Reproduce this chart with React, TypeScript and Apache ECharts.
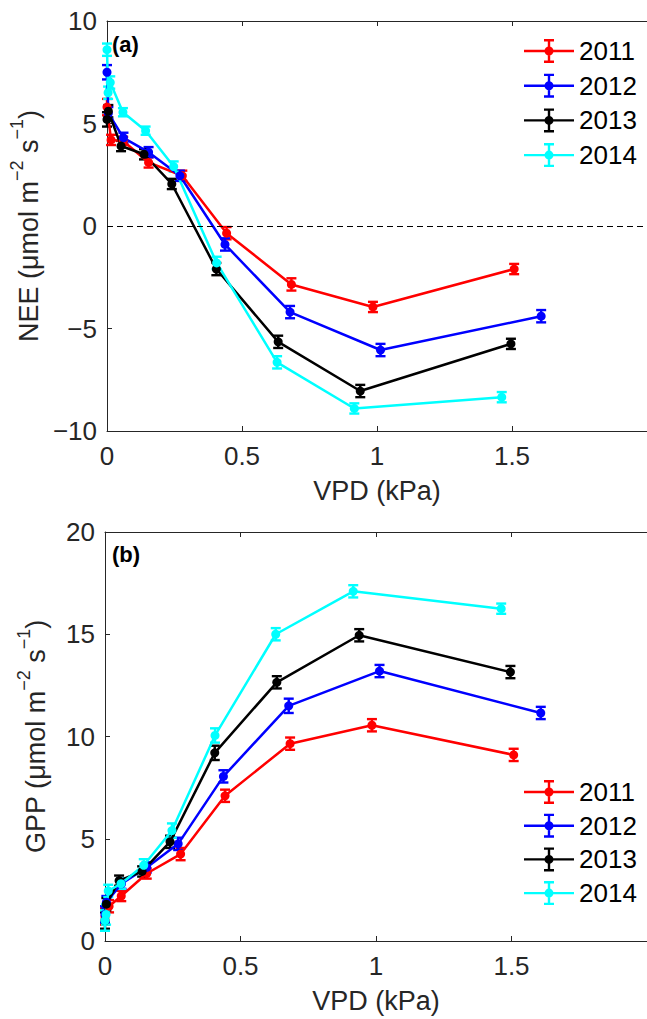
import React, { useEffect, useRef } from "react";
import * as echarts from "echarts";

// ---------- data ----------
const years = ["2011", "2012", "2013", "2014"];
const colors = ["#ff0000", "#0000ff", "#000000", "#00ffff"];

const vpd2011 = [0.0, 0.015, 0.06, 0.154, 0.279, 0.443, 0.683, 0.985, 1.508];
const vpd2012 = [0.0, 0.005, 0.061, 0.154, 0.27, 0.437, 0.678, 1.013, 1.608];
const vpd2013 = [0.0, 0.005, 0.052, 0.137, 0.24, 0.405, 0.634, 0.938, 1.496];
const vpd2014 = [0.0, 0.004, 0.012, 0.059, 0.143, 0.247, 0.406, 0.63, 0.916, 1.462];

const nee2011 = [5.8, 4.2, 4.15, 3.1, 2.45, -0.35, -2.85, -3.95, -2.1];
const nee2012 = [7.5, 5.5, 4.3, 3.6, 2.45, -0.9, -4.2, -6.05, -4.4];
const nee2013 = [5.2, 5.6, 3.9, 3.5, 2.05, -2.1, -5.65, -8.05, -5.75];
const nee2014 = [8.6, 6.5, 7.0, 5.55, 4.65, 2.9, -1.8, -6.65, -8.9, -8.35];

const neeErr2011 = [0.4, 0.25, 0.2, 0.25, 0.25, 0.3, 0.3, 0.25, 0.25];
const neeErr2012 = [0.35, 0.3, 0.25, 0.25, 0.25, 0.3, 0.3, 0.3, 0.3];
const neeErr2013 = [0.35, 0.3, 0.25, 0.25, 0.25, 0.3, 0.3, 0.3, 0.25];
const neeErr2014 = [0.3, 0.3, 0.3, 0.2, 0.2, 0.25, 0.3, 0.3, 0.25, 0.25];

const gpp2011 = [1.2, 1.7, 2.2, 3.3, 4.25, 7.1, 9.65, 10.55, 9.1];
const gpp2012 = [1.3, 1.9, 2.8, 3.6, 4.75, 8.05, 11.5, 13.2, 11.15];
const gpp2013 = [1.0, 1.8, 2.95, 3.4, 4.85, 9.2, 12.65, 14.95, 13.15];
const gpp2014 = [1.0, 1.3, 2.45, 2.8, 3.7, 5.4, 10.05, 15.0, 17.1, 16.25];

const gppErr2011 = [0.4, 0.3, 0.25, 0.25, 0.3, 0.3, 0.3, 0.3, 0.3];
const gppErr2012 = [0.4, 0.3, 0.25, 0.25, 0.3, 0.3, 0.35, 0.3, 0.3];
const gppErr2013 = [0.4, 0.3, 0.25, 0.25, 0.3, 0.35, 0.3, 0.3, 0.3];
const gppErr2014 = [0.5, 0.5, 0.3, 0.25, 0.3, 0.35, 0.35, 0.3, 0.3, 0.25];

const vpdByYear = [vpd2011, vpd2012, vpd2013, vpd2014];
const neeByYear = [nee2011, nee2012, nee2013, nee2014];
const neeErrByYear = [neeErr2011, neeErr2012, neeErr2013, neeErr2014];
const gppByYear = [gpp2011, gpp2012, gpp2013, gpp2014];
const gppErrByYear = [gppErr2011, gppErr2012, gppErr2013, gppErr2014];

const FONT = '"Liberation Sans", Arial, Helvetica, sans-serif';
const AX = "#262626";
const FS = 26;

const ICON =
  "path://M0 10.8 L50 10.8 L50 13.2 L0 13.2 Z M23.8 0 L26.2 0 L26.2 24 L23.8 24 Z M20 0 L30 0 L30 2.4 L20 2.4 Z M20 21.6 L30 21.6 L30 24 L20 24 Z M20.5 12 A4.5 4.5 0 1 1 29.5 12 A4.5 4.5 0 1 1 20.5 12 Z";

function fmtNum(v: number) {
  return String(v).replace("-", "\u2212");
}

function makeSeries(panel: number, ys: number[][], errs: number[][]) {
  const out: any[] = [];
  years.forEach((yr, k) => {
    const color = colors[k];
    const xs = vpdByYear[k];
    out.push({
      type: "custom",
      name: "err" + yr + "_" + panel,
      xAxisIndex: panel * 2,
      yAxisIndex: panel,
      z: 3,
      data: xs.map((x, i) => [x, ys[k][i] - errs[k][i], ys[k][i] + errs[k][i]]),
      encode: { x: 0, y: [1, 2] },
      renderItem: (params: any, api: any) => {
        const lo = api.coord([api.value(0), api.value(1)]);
        const hi = api.coord([api.value(0), api.value(2)]);
        const w = 5;
        const st = { stroke: color, lineWidth: 2.4 };
        return {
          type: "group",
          children: [
            { type: "line", shape: { x1: lo[0], y1: lo[1], x2: hi[0], y2: hi[1] }, style: st },
            { type: "line", shape: { x1: lo[0] - w, y1: lo[1], x2: lo[0] + w, y2: lo[1] }, style: st },
            { type: "line", shape: { x1: hi[0] - w, y1: hi[1], x2: hi[0] + w, y2: hi[1] }, style: st },
          ],
        };
      },
    });
    const line: any = {
      type: "line",
      name: yr,
      xAxisIndex: panel * 2,
      yAxisIndex: panel,
      z: 3,
      data: xs.map((x, i) => [x, ys[k][i]]),
      symbol: "circle",
      symbolSize: 9,
      showSymbol: true,
      itemStyle: { color },
      lineStyle: { color, width: 2.5 },
      emphasis: { disabled: true },
    };
    if (panel === 0 && k === 0) {
      line.markLine = {
        silent: true,
        symbol: ["none", "none"],
        label: { show: false },
        lineStyle: { type: [6, 4], color: "#000", width: 1.2 },
        data: [{ yAxis: 0 }],
      };
    }
    out.push(line);
  });
  return out;
}

function xAxes(grid: number) {
  const common = {
    type: "value",
    gridIndex: grid,
    min: 0,
    max: 2,
    interval: 0.5,
    splitLine: { show: false },
    axisLine: { show: true, onZero: false, lineStyle: { color: AX, width: 1 } },
    axisTick: { show: true, inside: true, length: 5, lineStyle: { color: AX } },
  };
  return [
    {
      ...common,
      position: "bottom",
      name: "VPD (kPa)",
      nameLocation: "middle",
      nameGap: 46,
      nameTextStyle: { fontSize: FS + 1, fontFamily: FONT, color: AX },
      axisLabel: {
        show: true,
        fontSize: FS,
        fontFamily: FONT,
        color: AX,
        margin: 12,
        showMaxLabel: false,
        formatter: (v: number) => fmtNum(v),
      },
    },
    { ...common, position: "top", axisLabel: { show: false } },
  ];
}

function yAxis(grid: number, min: number, max: number, label: string) {
  return {
    type: "value",
    gridIndex: grid,
    min,
    max,
    interval: 5,
    position: "left",
    splitLine: { show: false },
    axisLine: { show: true, onZero: false, lineStyle: { color: AX, width: 1 } },
    axisTick: { show: true, inside: true, length: 5, lineStyle: { color: AX } },
    axisLabel: {
      fontSize: FS,
      fontFamily: FONT,
      color: AX,
      margin: 10,
      formatter: (v: number) => fmtNum(v),
    },
    name: "{n|" + label + " (}{n|\u03bc}{n|mol m}{s|\u22122}{n| s}{s|\u22121}{n|)}",
    nameLocation: "middle",
    nameGap: 56,
    nameTextStyle: {
      color: AX,
      fontFamily: FONT,
      fontSize: FS + 1,
      rich: {
        n: { fontSize: FS + 1, fontFamily: FONT, color: AX, verticalAlign: "bottom", padding: [7, 0, 0, 0] },
        s: { fontSize: 18, fontFamily: FONT, color: AX, verticalAlign: "top" },
      },
    },
  };
}

function legend(top: number, gap: number) {
  return {
    data: years,
    orient: "vertical",
    left: 524,
    top,
    padding: 0,
    itemWidth: 50,
    itemHeight: 24,
    itemGap: gap,
    icon: ICON,
    selectedMode: false,
    textStyle: { fontSize: FS, fontFamily: FONT, color: "#000", padding: [0, 0, 0, 0] },
  };
}

export default function App() {
  const ref = useRef<HTMLDivElement>(null);
  useEffect(() => {
    document.body.style.margin = "0";
    const chart = echarts.init(ref.current!, null, { renderer: "svg" });
    const option: any = {
      animation: false,
      backgroundColor: "#ffffff",
      grid: [
        { left: 105, top: 21, width: 549, height: 410 },
        { left: 105, top: 532, width: 549, height: 409 },
      ],
      xAxis: [...xAxes(0), ...xAxes(1)],
      yAxis: [yAxis(0, -10, 10, "NEE"), yAxis(1, 0, 20, "GPP")],
      legend: [legend(38, 8.7), legend(779, 7.7)],
      graphic: [
        {
          type: "text",
          left: 112,
          top: 33,
          style: { text: "(a)", font: "bold 22px " + FONT, fill: "#000" },
        },
        {
          type: "text",
          left: 112,
          top: 543,
          style: { text: "(b)", font: "bold 22px " + FONT, fill: "#000" },
        },
      ],
      series: [...makeSeries(0, neeByYear, neeErrByYear), ...makeSeries(1, gppByYear, gppErrByYear)],
    };
    chart.setOption(option);
    return () => chart.dispose();
  }, []);
  return <div ref={ref} style={{ width: 647, height: 1019 }} />;
}
